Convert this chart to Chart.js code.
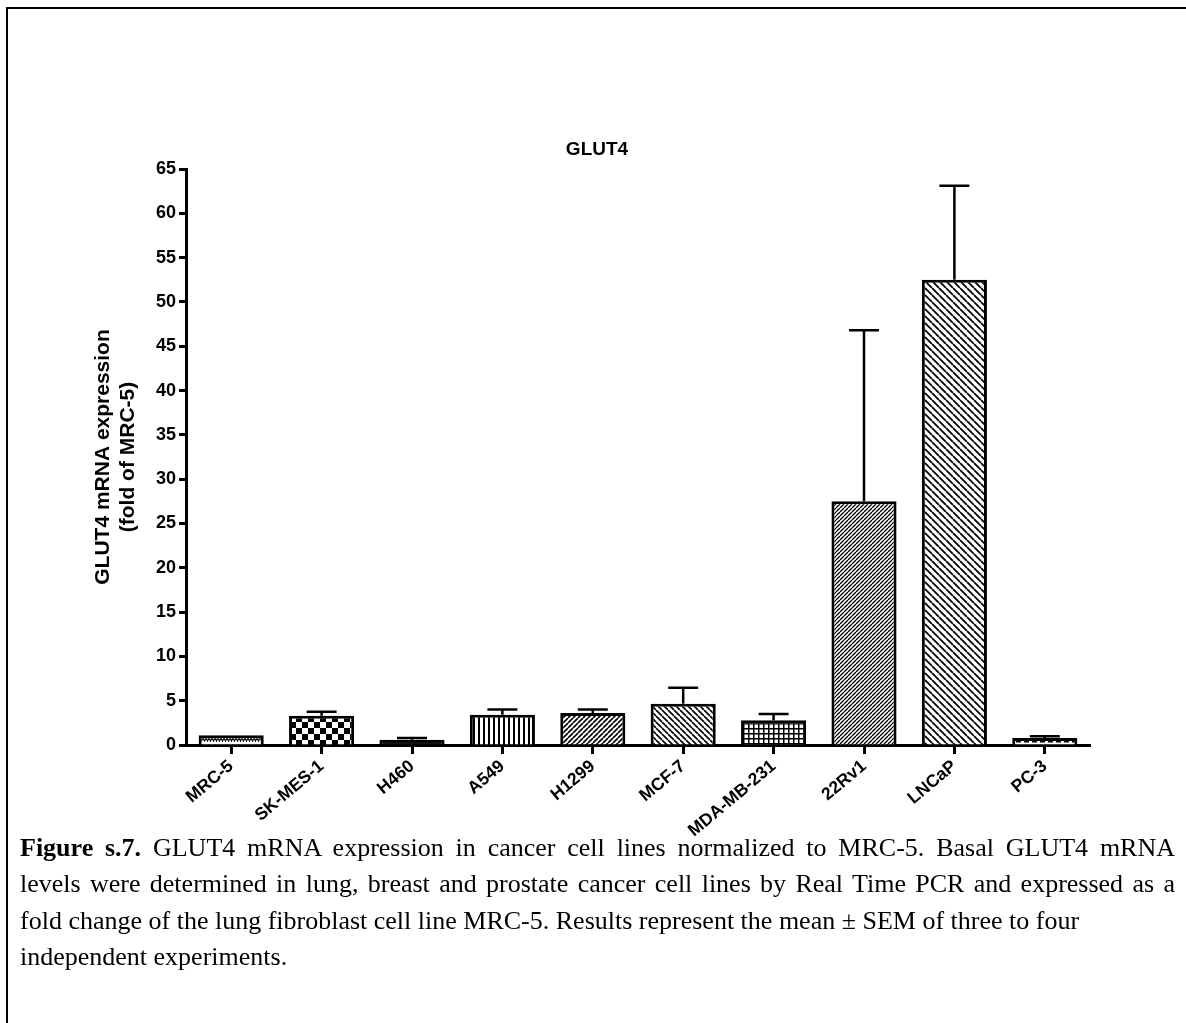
<!DOCTYPE html>
<html>
<head>
<meta charset="utf-8">
<title>GLUT4</title>
<script src="https://cdn.jsdelivr.net/npm/chart.js@4.4.0/dist/chart.umd.min.js"></script>
<style>
  html, body { margin: 0; padding: 0; background: #fff; }
  body { width: 1186px; height: 1023px; position: relative; overflow: hidden; }
  #frame { position: absolute; left: 6px; top: 7px; right: 0; bottom: 0; border-left: 2px solid #000; border-top: 2px solid #000; }
  #wrap { position: absolute; left: 8px; top: 8px; width: 1178px; height: 830px; }
  #caption { position: absolute; left: 20px; top: 830px; font-family: "Liberation Serif", "Times New Roman", serif; font-size: 26px; line-height: 36.3px; color: #000; white-space: nowrap; }
  #caption .full { width: 1155px; text-align: justify; text-align-last: justify; }
</style>
</head>
<body>
<div id="frame"></div>
<div id="wrap"><canvas id="glut4chart" width="1178" height="830"></canvas></div>
<div id="caption">
  <div class="full"><b>Figure s.7.</b> GLUT4 mRNA expression in cancer cell lines normalized to MRC-5. Basal GLUT4 mRNA</div>
  <div class="full">levels were determined in lung, breast and prostate cancer cell lines by Real Time PCR and expressed as a</div>
  <div>fold change of the lung fibroblast cell line MRC-5. Results represent the mean ± SEM of three to four</div>
  <div>independent experiments.</div>
</div>
<script>
const cellLines = ["MRC-5", "SK-MES-1", "H460", "A549", "H1299", "MCF-7", "MDA-MB-231", "22Rv1", "LNCaP", "PC-3"];
const meanFold = [1.1, 3.3, 0.6, 3.4, 3.6, 4.65, 2.8, 27.5, 52.5, 0.8];
const semFold = [0, 0.45, 0.2, 0.6, 0.4, 1.8, 0.7, 19.3, 10.6, 0.2];
const yMin = 0;
const yMax = 65;
const yStep = 5;

const canvas = document.getElementById("glut4chart");
const ctx = canvas.getContext("2d");
const boldFont = "'Liberation Sans', Arial, sans-serif";

// small black/white tiles used as bar fills
function makePattern(w, h, draw) {
  const tile = document.createElement("canvas");
  tile.width = w;
  tile.height = h;
  const g = tile.getContext("2d");
  g.fillStyle = "#fff";
  g.fillRect(0, 0, w, h);
  g.strokeStyle = "#000";
  g.fillStyle = "#000";
  draw(g, w, h);
  return ctx.createPattern(tile, "repeat");
}

function diag(s, lw, back) {
  return makePattern(s, s, (g) => {
    g.lineWidth = lw;
    g.beginPath();
    for (let k = -1; k <= 1; k++) {
      if (back) {
        g.moveTo(k * s, 0);
        g.lineTo(k * s + s, s);
      } else {
        g.moveTo(k * s, s);
        g.lineTo(k * s + s, 0);
      }
    }
    g.stroke();
  });
}

const fills = [
  makePattern(6, 7, (g) => {
    g.lineWidth = 1.2;
    g.beginPath();
    g.moveTo(0, 2);
    g.lineTo(1.5, 5);
    g.lineTo(3, 2);
    g.lineTo(4.5, 5);
    g.lineTo(6, 2);
    g.stroke();
  }),
  makePattern(12, 12, (g) => {
    g.fillRect(0, 0, 6, 6);
    g.fillRect(6, 6, 6, 6);
  }),
  "#111",
  makePattern(5, 5, (g) => {
    g.fillRect(0, 0, 2, 5);
  }),
  diag(5, 1.6, false),
  diag(6, 1.6, true),
  makePattern(5, 5, (g) => {
    g.fillRect(0, 0, 5, 1.5);
    g.fillRect(0, 0, 1.5, 5);
  }),
  diag(4, 1.3, false),
  diag(7, 1.8, true),
  makePattern(8, 4, (g) => {
    g.fillRect(0, 1, 5, 1.5);
  }),
];

const errorBars = {
  id: "errorBars",
  afterDatasetsDraw(chart) {
    const c = chart.ctx;
    const meta = chart.getDatasetMeta(0);
    const y = chart.scales.y;
    c.save();
    c.strokeStyle = "#000";
    c.lineWidth = 2.5;
    meta.data.forEach((bar, i) => {
      if (!semFold[i]) return;
      const top = y.getPixelForValue(meanFold[i] + semFold[i]);
      c.beginPath();
      c.moveTo(bar.x, bar.y);
      c.lineTo(bar.x, top);
      c.moveTo(bar.x - 15, top);
      c.lineTo(bar.x + 15, top);
      c.stroke();
    });
    c.restore();
  },
};

new Chart(canvas, {
  type: "bar",
  data: {
    labels: cellLines,
    datasets: [
      {
        label: "GLUT4",
        data: meanFold,
        backgroundColor: fills,
        borderColor: "#000",
        borderWidth: 3,
        borderSkipped: "bottom",
        barPercentage: 0.72,
        categoryPercentage: 1,
      },
    ],
  },
  options: {
    responsive: false,
    animation: false,
    layout: { padding: 0 },
    scales: {
      x: {
        offset: true,
        z: 1,
        grid: { display: true, offset: false, drawOnChartArea: false, drawTicks: true, tickLength: 9, tickWidth: 3, tickColor: "#000" },
        border: { display: true, width: 3, color: "#000" },
        ticks: {
          autoSkip: false,
          maxRotation: 40,
          minRotation: 40,
          padding: 2,
          color: "#000",
          font: { family: boldFont, size: 17.5, weight: "bold" },
        },
        afterFit: (scale) => {
          scale.height = 93;
          scale.paddingRight = 96;
        },
      },
      y: {
        min: yMin,
        max: yMax,
        z: 1,
        grid: { display: true, drawOnChartArea: false, drawTicks: true, tickLength: 7, tickWidth: 3, tickColor: "#000" },
        border: { display: true, width: 3, color: "#000" },
        ticks: {
          stepSize: yStep,
          padding: 3,
          color: "#000",
          font: { family: boldFont, size: 18, weight: "bold" },
        },
        title: {
          display: true,
          text: ["GLUT4 mRNA expression", "(fold of MRC-5)"],
          color: "#000",
          font: { family: boldFont, size: 21, weight: "bold", lineHeight: "25px" },
          padding: { top: 82.5, bottom: 0 },
        },
        afterFit: (scale) => { scale.width = 178; },
      },
    },
    plugins: {
      legend: { display: false },
      tooltip: { enabled: false },
      title: {
        display: true,
        text: "GLUT4",
        color: "#000",
        font: { family: boldFont, size: 19, weight: "bold", lineHeight: 1.2 },
        padding: { top: 130.6, bottom: 7.6 },
      },
    },
  },
  plugins: [errorBars],
});
</script>
</body>
</html>
